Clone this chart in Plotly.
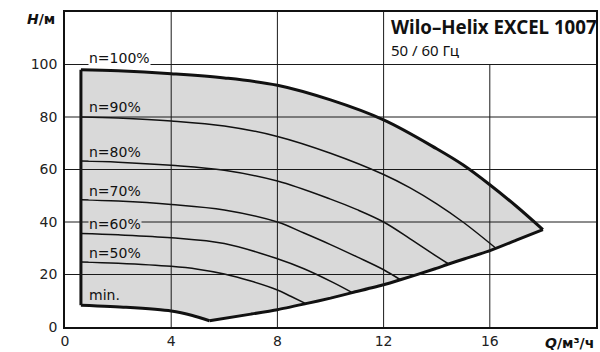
import plotly.graph_objects as go

# ---- data (Q in m3/h, H in m) ----
q_top = [0.6, 2, 4, 6, 8, 10, 12, 14, 15, 16, 17, 18]
h_top = [98.0, 97.6, 96.5, 94.9, 92.1, 86.5, 78.9, 67.9, 61.7, 54.2, 46.0, 37.1]

q_low_right = [18.0, 17.0, 16.03, 15.06, 14.45, 13.94, 12.63, 12.0, 10.82, 10.0, 9.07, 8.0, 7.0, 5.44]
h_low_right = [37.1, 33.1, 29.2, 26.0, 24.0, 22.2, 18.0, 16.1, 13.1, 11.0, 8.9, 6.6, 4.9, 2.4]

q_low_left = [5.44, 4.8, 4.0, 2.3, 0.6]
h_low_left = [2.4, 4.4, 6.1, 7.5, 8.3]

q_90 = [0.6, 2, 4, 6, 8, 10, 12, 13, 14, 15, 16.23]
h_90 = [80.0, 79.6, 78.5, 76.6, 72.6, 66.2, 58.1, 53.0, 46.9, 39.9, 30.0]

q_80 = [0.6, 2, 4, 6, 8, 10, 11, 12, 13, 14, 14.45]
h_80 = [63.2, 62.8, 61.6, 59.7, 55.6, 48.7, 44.7, 40.0, 33.6, 26.9, 24.0]

q_70 = [0.6, 2, 4, 6, 8, 9, 10, 11, 12, 12.63]
h_70 = [48.5, 48.0, 46.7, 44.6, 40.0, 35.8, 31.4, 26.7, 21.8, 18.0]

q_60 = [0.6, 2, 4, 6, 8, 9, 10.07, 10.82]
h_60 = [35.6, 35.1, 34.0, 31.8, 26.0, 22.2, 17.1, 13.1]

q_50 = [0.6, 2, 4, 5, 6, 7, 8, 8.5, 9.07]
h_50 = [24.8, 24.3, 23.1, 22.0, 20.2, 17.5, 14.1, 11.7, 8.9]

speed_labels = ["n=100%", "n=90%", "n=80%", "n=70%", "n=60%", "n=50%", "min."]
label_h = [102.4, 83.8, 66.7, 51.8, 39.3, 28.3, 12.2]
label_q = 0.86

x_ticks = [0, 4, 8, 12, 16]
y_ticks = [0, 20, 40, 60, 80, 100]
x_grid = [4, 8, 12]
x_grid_short = [16]
y_grid = [20, 40, 60, 80, 100]

title_text = "Wilo–Helix EXCEL 1007"
subtitle_text = "50 / 60 Гц"

FILL = "#d9d9d9"
BLACK = "#111111"
FONT = "DejaVu Sans"

W, H = 600, 352
ml, mr, mt, mb = 65, 2, 12, 25
pw, ph = W - ml - mr, H - mt - mb

fig = go.Figure()

# envelope fill
env_q = q_top + q_low_right[1:] + q_low_left[1:] + [q_top[0]]
env_h = h_top + h_low_right[1:] + h_low_left[1:] + [h_top[0]]
fig.add_trace(go.Scatter(x=env_q, y=env_h, fill="toself", fillcolor=FILL,
                         mode="lines", line=dict(width=0, color=FILL),
                         hoverinfo="skip", showlegend=False))

# speed curves
for qq, hh in [(q_90, h_90), (q_80, h_80), (q_70, h_70), (q_60, h_60), (q_50, h_50)]:
    fig.add_trace(go.Scatter(x=qq, y=hh, mode="lines",
                             line=dict(color=BLACK, width=1.5, shape="spline", smoothing=1.0),
                             hoverinfo="skip", showlegend=False))

# envelope outline
fig.add_trace(go.Scatter(x=q_top, y=h_top, mode="lines",
                         line=dict(color=BLACK, width=3, shape="spline", smoothing=1.0),
                         hoverinfo="skip", showlegend=False))
for qq, hh in [(q_low_right, h_low_right), (q_low_left, h_low_left),
               ([q_top[0], q_low_left[-1]], [h_top[0], h_low_left[-1]])]:
    fig.add_trace(go.Scatter(x=qq, y=hh, mode="lines",
                             line=dict(color=BLACK, width=3, shape="spline", smoothing=0.6),
                             hoverinfo="skip", showlegend=False))

# grid lines (drawn above fill)
shapes = []
gl = dict(color="#1a1a1a", width=1)
for gx in x_grid:
    shapes.append(dict(type="line", xref="x", yref="y", x0=gx, x1=gx, y0=0, y1=120, line=gl, layer="above"))
for gx in x_grid_short:
    shapes.append(dict(type="line", xref="x", yref="y", x0=gx, x1=gx, y0=0, y1=100, line=gl, layer="above"))
for gy in y_grid:
    shapes.append(dict(type="line", xref="x", yref="y", x0=0, x1=20, y0=gy, y1=gy, line=gl, layer="above"))

annotations = []
for i, (txt, hy) in enumerate(zip(speed_labels, label_h)):
    annotations.append(dict(x=label_q, y=hy, xref="x", yref="y", text=txt, showarrow=False,
                            xanchor="left", yanchor="middle",
                            font=dict(family=FONT, size=14, color=BLACK),
                            bgcolor="white" if i == 0 else FILL, borderpad=0))

annotations.append(dict(x=12.2, y=114.4, xref="x", yref="y", text="<b>" + title_text + "</b>",
                        showarrow=False, xanchor="left", yanchor="middle",
                        font=dict(family="Noto Sans", size=18.7, color=BLACK)))
annotations.append(dict(x=12.2, y=105.6, xref="x", yref="y", text=subtitle_text,
                        showarrow=False, xanchor="left", yanchor="middle",
                        font=dict(family="Noto Sans", size=15, color=BLACK)))
annotations.append(dict(x=(41 - ml) / pw, y=(H - mb - 19) / ph, xref="paper", yref="paper",
                        text="<b><i>H</i>/м</b>", showarrow=False, xanchor="center", yanchor="middle",
                        font=dict(family=FONT, size=14, color=BLACK)))
annotations.append(dict(x=1.0, y=(H - mb - 343) / ph, xref="paper", yref="paper",
                        text="<b><i>Q</i>/м³/ч</b>", showarrow=False, xanchor="right", yanchor="middle",
                        font=dict(family=FONT, size=14, color=BLACK)))

fig.update_layout(
    width=W, height=H,
    margin=dict(l=ml, r=mr, t=mt, b=mb),
    plot_bgcolor="white", paper_bgcolor="white",
    shapes=shapes, annotations=annotations,
    xaxis=dict(range=[0, 20], tickvals=x_ticks, showgrid=False, zeroline=False,
               showline=True, mirror=True, linecolor=BLACK, linewidth=1.5, ticks="",
               tickfont=dict(family=FONT, size=14, color="#222222"), fixedrange=True),
    yaxis=dict(range=[0, 120], tickvals=y_ticks, showgrid=False, zeroline=False,
               showline=True, mirror=True, linecolor=BLACK, linewidth=1.5, ticks="",
               ticklabelstandoff=3,
               tickfont=dict(family=FONT, size=14, color="#222222"), fixedrange=True),
    showlegend=False,
)

fig.write_html("out.html", config={"displayModeBar": False},
               post_script="document.body.style.margin='0';document.body.style.padding='0';")
